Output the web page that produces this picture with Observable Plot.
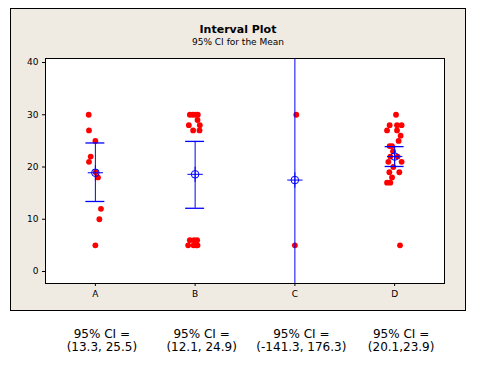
<!DOCTYPE html>
<html><head><meta charset="utf-8">
<script src="https://cdn.jsdelivr.net/npm/d3@7"></script>
<script src="https://cdn.jsdelivr.net/npm/@observablehq/plot@0.6"></script>
<style>
body{margin:0;background:#fff;width:481px;height:368px;position:relative;overflow:hidden;font-family:"DejaVu Sans",Verdana,sans-serif;color:#000;}
#panel{position:absolute;left:10px;top:8px;width:456px;height:303px;box-sizing:border-box;border:1px solid #000;background:#F0EBE2;}
#title{position:absolute;left:0;top:14px;width:454px;text-align:center;font-weight:bold;font-size:11px;line-height:13px;}
#subtitle{position:absolute;left:0;top:28px;width:454px;text-align:center;font-size:9px;line-height:11px;}
#chart{position:absolute;left:0;top:31px;}
.ci{position:absolute;width:140px;text-align:center;font-size:12px;line-height:13px;white-space:nowrap;}
</style></head>
<body>
<div id="panel"><div id="title">Interval Plot</div><div id="subtitle">95% CI for the Mean</div><div id="chart"></div></div>
<script>
const categories = ["A","B","C","D"];
const valuesA = [30,27,25,22,21,19,18,12,10,5];
const jitterA = [-0.067,-0.064,0,-0.047,-0.064,0.003,0.026,0.056,0.04,0];
const valuesB = [30,30,30,30,29,28,28,27,27,6,6,6,5,5,5,5];
const jitterB = [-0.053,-0.023,0.004,0.027,0.024,-0.063,0.047,-0.02,0.044,-0.053,-0.01,0.02,-0.07,-0.016,0.024,0.01];
const valuesC = [30,5];
const jitterC = [0.014,0];
const valuesD = [30,28,28,28,27,27,26,25,24,24,23,22,22,21,21,20,19,19,18,17,17,5];
const jitterD = [0.014,-0.05,0.024,0.07,-0.076,0.024,0.06,0.04,-0.05,-0.026,-0.016,-0.043,0.03,-0.063,0.07,-0.013,-0.053,0.047,-0.026,-0.043,-0.076,0.054];
const means = [18.9,18.6,17.5,22.0];
const ciLow = [13.4,12.1,-141.3,20.1];
const ciHigh = [24.6,24.9,176.3,23.9];
const ciText = ["(13.3, 25.5)","(12.1, 24.9)","(-141.3, 176.3)","(20.1,23.9)"];
const yTicks = [0,10,20,30,40];

const groups = [[valuesA,jitterA],[valuesB,jitterB],[valuesC,jitterC],[valuesD,jitterD]];
const points = groups.flatMap(([vals,jit],i)=>vals.map((v,k)=>({i, x:i+jit[k], y:v})));
const stats = categories.map((c,i)=>({i, mean:means[i], lo:ciLow[i], hi:ciHigh[i]}));
const capHalf = 0.095;

const chart = Plot.plot({
  width:454, height:270,
  marginLeft:34, marginRight:21, marginTop:18, marginBottom:27,
  style:{background:"transparent", fontFamily:"'DejaVu Sans', Verdana, sans-serif", fontSize:"9px", color:"#000"},
  x:{type:"linear", domain:[-0.5,3.5], axis:null},
  y:{domain:[-2.3,40.77], axis:null},
  marks:[
    Plot.frame({fill:"#fff", stroke:null}),
    Plot.axisY({ticks:yTicks, tickSize:3, tickPadding:4, label:null, stroke:"#000"}),
    Plot.axisX({ticks:[0,1,2,3], tickFormat:i=>categories[i], tickSize:3, tickPadding:4, label:null, stroke:"#000"}),
    Plot.dot(points,{x:"x", y:"y", r:2.9, fill:"#ff0000", stroke:null, clip:true}),
    Plot.ruleX(stats,{x:"i", y1:"lo", y2:"hi", stroke:"#0000ff", strokeWidth:1, clip:true}),
    Plot.ruleY(stats,{y:"hi", x1:d=>d.i-capHalf, x2:d=>d.i+capHalf, stroke:"#0000ff", strokeWidth:1.3, clip:true}),
    Plot.ruleY(stats,{y:"lo", x1:d=>d.i-capHalf, x2:d=>d.i+capHalf, stroke:"#0000ff", strokeWidth:1.3, clip:true}),
    Plot.dot(stats,{x:"i", y:"mean", r:3.8, stroke:"#0000ff", fill:"none", strokeWidth:1}),
    Plot.dot(stats,{x:"i", y:"mean", symbol:"plus", r:5, stroke:"#0000ff", strokeWidth:1}),
    Plot.frame({stroke:"#000", strokeWidth:1})
  ]
});
document.getElementById("chart").appendChild(chart);

const xs = chart.scale("x");
categories.forEach((c,i)=>{
  const cx = 11 + xs.apply(i) + 7;
  const l1 = document.createElement("div");
  l1.className="ci"; l1.style.left=(cx-70)+"px"; l1.style.top="328px"; l1.textContent="95% CI =";
  const l2 = document.createElement("div");
  l2.className="ci"; l2.style.left=(cx-70)+"px"; l2.style.top="341px"; l2.textContent=ciText[i];
  document.body.appendChild(l1); document.body.appendChild(l2);
});
</script>
</body></html>
